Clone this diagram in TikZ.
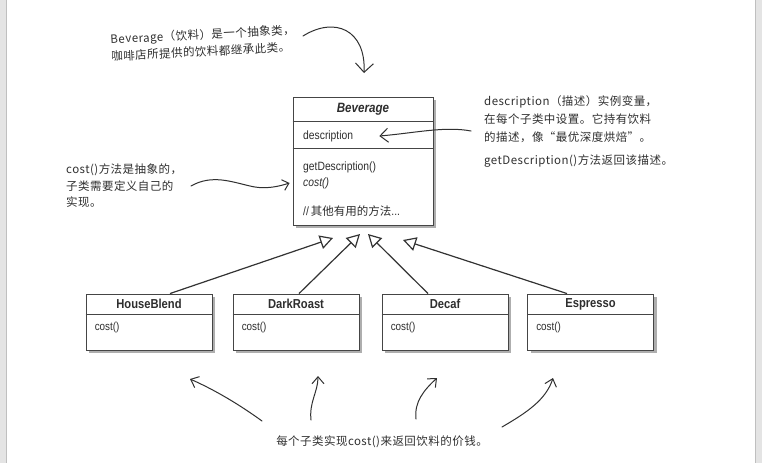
\documentclass[tikz,border=0pt]{standalone}
\usepackage{fontspec}
\setmainfont{Liberation Sans}
\newfontfamily\umlfont[FakeStretch=0.86]{Liberation Sans}
\newfontfamily\cjkfont{Noto Sans CJK SC}
\newfontfamily\handfont[LetterSpace=4]{Noto Sans CJK SC}
\usetikzlibrary{arrows.meta,shadows}
\definecolor{boxline}{HTML}{454545}
\definecolor{ink}{HTML}{303030}
\definecolor{umltext}{HTML}{2E2E2E}
\definecolor{sidebar}{HTML}{E4E4E4}
\tikzset{
  umlbox/.style={draw=boxline, line width=0.9pt, fill=white, inner sep=0pt,
    drop shadow={shadow xshift=3pt, shadow yshift=-3pt, fill=black!70, opacity=0.45}},
  sep/.style={draw=boxline, line width=0.9pt},
  umltitle/.style={font=\umlfont\fontsize{13}{15}\selectfont\bfseries, text=umltext, inner sep=0pt},
  member/.style={font=\umlfont\fontsize{12}{14}\selectfont, text=umltext, inner sep=0pt, anchor=west},
  submember/.style={font=\umlfont\fontsize{11.5}{14}\selectfont, text=umltext, inner sep=0pt, anchor=west},
  inherit/.style={draw=black!80, line width=1.2pt, -{Triangle[open, length=13pt, width=14pt, line width=1.2pt]}},
  annot/.style={font=\handfont\fontsize{11.5}{17}\selectfont, text=ink, inner sep=0pt, align=left},
  note/.style={draw=ink, line width=1pt, line cap=round},
}
\begin{document}
\begin{tikzpicture}[x=1pt, y=-1pt]
\useasboundingbox (0,0) rectangle (762,463);
\fill[white] (0,0) rectangle (762,463);
\fill[sidebar] (0,0) rectangle (6,463);
\draw[black!25, line width=0.8pt] (6,0) -- (6,463);
\fill[sidebar] (755,0) rectangle (762,463);
\draw[black!25, line width=0.8pt] (755,0) -- (755,463);

% Beverage class
\node[umlbox, minimum width=140pt, minimum height=128pt] (bev) at (363,161) {};
\draw[sep] (bev.west |- 0,121) -- (bev.east |- 0,121);
\draw[sep] (bev.west |- 0,148) -- (bev.east |- 0,148);
\node[umltitle, font=\umlfont\fontsize{13.5}{15}\selectfont\bfseries\itshape] (bevtitle) at (363,109) {Beverage};
\node[member] (bevdesc) at (303,136) {description};
\node[member] (bevget) at (303,167) {getDescription()};
\node[member, font=\umlfont\fontsize{12}{14}\selectfont\itshape] (bevcost) at (303,183) {cost()};
\node[member] (bevother) at (303,211) {//\,{\cjkfont\fontsize{11.5}{14}\selectfont 其他有用的方法}...};

% subclasses
\foreach \name/\cx/\label in {hb/149/HouseBlend, dr/296/DarkRoast, dc/445/Decaf, es/590.5/Espresso}{
  \node[umlbox, minimum width=126pt, minimum height=56pt] (\name) at (\cx,322) {};
  \draw[sep] (\name.west |- 0,314) -- (\name.east |- 0,314);
  \node[umltitle] (\name title) at (\cx,304) {\label};
  \node[submember] (\name cost) at ([xshift=9pt, yshift=-6pt]\name.west) {cost()};
}

% inheritance arrows
\coordinate (tipA) at (333,238);
\coordinate (tipB) at (360,234);
\coordinate (tipC) at (368,234);
\coordinate (tipD) at (403,240);
\draw[inherit] ([xshift=21pt]hb.north) -- (tipA);
\draw[inherit] ([xshift=3pt]dr.north) -- (tipB);
\draw[inherit] ([xshift=-17pt]dc.north) -- (tipC);
\draw[inherit] ([xshift=-23.5pt]es.north) -- (tipD);

% annotations
\node[annot, rotate=3] (n1) at (203,43) {Beverage（饮料）是一个抽象类，\\咖啡店所提供的饮料都继承此类。};
\node[annot, anchor=north west, font=\handfont\fontsize{11.5}{18}\selectfont] (n2) at (484,95) {description（描述）实例变量，\\在每个子类中设置。它持有饮料\\的描述，像“最优深度烘焙”。\\[5pt]getDescription()方法返回该描述。};
\node[annot, anchor=north west, font=\handfont\fontsize{11.5}{16.5}\selectfont] (n3) at (66,164) {cost()方法是抽象的，\\子类需要定义自己的\\实现。};
\node[annot] (n4) at (382,442) {每个子类实现cost()来返回饮料的价钱。};

% annotation arrows
\coordinate (a1s) at (303,36);
\coordinate (a1e) at (364,73);
\draw[note, -{Straight Barb[length=9pt, width=18pt, line width=1pt]}] (a1s) .. controls (335,16) and (366,30) .. (a1e);
\coordinate (a2s) at (471,131);
\draw[note, -{Straight Barb[length=8pt, width=14pt, line width=1pt]}] (a2s) .. controls (445,126) and (415,133) .. ([xshift=26pt]bevdesc.east);
\coordinate (a3s) at (191,186);
\draw[note, -{Straight Barb[length=6pt, width=11pt, line width=1pt]}] (a3s) .. controls (212,174) and (232,182) .. (250,186) .. controls (266,190) and (280,186) .. ([xshift=-3pt]bev.west |- 0,183);
\coordinate (a4s) at (262,421);
\coordinate (a4e) at (190,379);
\draw[note, -{Straight Barb[length=7pt, width=12pt, line width=1pt]}] (a4s) .. controls (240,405) and (215,390) .. (a4e);
\coordinate (a5s) at (311,420);
\coordinate (a5e) at (318,376);
\draw[note, -{Straight Barb[length=7pt, width=12pt, line width=1pt]}] (a5s) .. controls (309,402) and (318,392) .. (a5e);
\coordinate (a6s) at (416,419);
\coordinate (a6e) at (437,378);
\draw[note, -{Straight Barb[length=7pt, width=12pt, line width=1pt]}] (a6s) .. controls (414,402) and (424,390) .. (a6e);
\coordinate (a7s) at (502,427);
\coordinate (a7e) at (553,378);
\draw[note, -{Straight Barb[length=7pt, width=12pt, line width=1pt]}] (a7s) .. controls (526,413) and (546,400) .. (a7e);
\end{tikzpicture}
\end{document}
